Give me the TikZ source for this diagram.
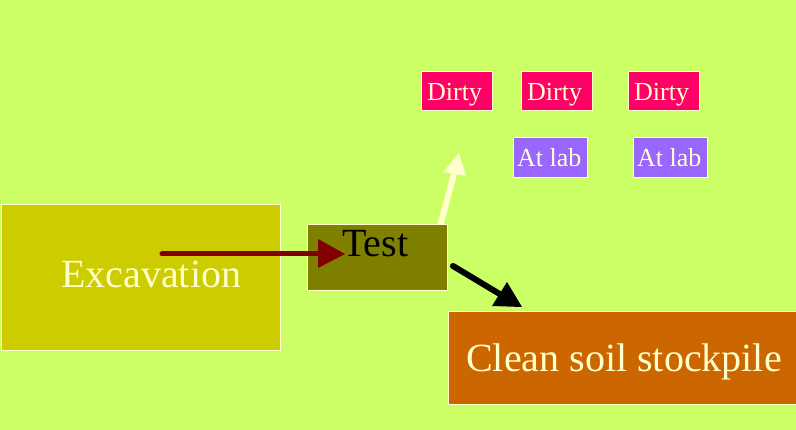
\documentclass[tikz,border=0pt]{standalone}
\usepackage{fontspec}
\setmainfont{Liberation Serif}
\definecolor{bg}{RGB}{204,255,102}
\definecolor{excav}{RGB}{204,204,0}
\definecolor{testc}{RGB}{128,128,0}
\definecolor{cleanc}{RGB}{204,102,0}
\definecolor{dirtyc}{RGB}{255,0,102}
\definecolor{labc}{RGB}{153,102,255}
\definecolor{cream}{RGB}{255,255,204}
\definecolor{darkred}{RGB}{128,0,0}
\tikzset{
  box/.style={draw=cream, line width=1pt},
  bigtext/.style={anchor=base west, inner sep=0pt, font=\fontsize{40}{48}\selectfont},
  smalltext/.style={anchor=base west, inner sep=0pt, font=\fontsize{26}{31}\selectfont, text=cream},
  conn/.style={line width=5pt},
}
\begin{document}
\begin{tikzpicture}[x=1pt,y=-1pt]
\useasboundingbox (0,0) rectangle (796,430);
\fill[bg] (0,0) rectangle (796,430);
% cream arrow (behind Test box)
\coordinate (c1) at (440,226);
\coordinate (c2) at (454,174);
\coordinate (c3) at (459,153);
\draw[conn, cream, line width=6pt] (c1) -- (c2);
\fill[cream] (c3) -- (443,172) -- (466,176) -- cycle;
% boxes
\draw[box, fill=excav] (1,205) rectangle (280,351);
\node[bigtext, text=cream] (excav) at (61,288) {Excavation};
\draw[box, fill=testc] (307,225) rectangle (447,291);
\node[bigtext, text=black] (test) at (342,257) {Test};
\draw[box, fill=cleanc] (448,312) rectangle (796,405);
\node[bigtext, text=cream] (clean) at (466,372) {Clean soil stockpile};
% dirty boxes
\draw[box, fill=dirtyc] (421,72) rectangle (492,111);
\node[smalltext] (d1) at (427,101) {Dirty};
\draw[box, fill=dirtyc] (521,72) rectangle (592,111);
\node[smalltext] (d2) at (527,101) {Dirty};
\draw[box, fill=dirtyc] (628,72) rectangle (699,111);
\node[smalltext] (d3) at (634,101) {Dirty};
% at lab boxes
\draw[box, fill=labc] (513,138) rectangle (587,178);
\node[smalltext] (l1) at (517,167) {At lab};
\draw[box, fill=labc] (633,138) rectangle (707,178);
\node[smalltext] (l2) at (637,167) {At lab};
% red arrow
\coordinate (r1) at (162,254);
\coordinate (r2) at (320,254);
\draw[conn, darkred, line cap=round] (r1) -- (r2);
\fill[darkred] (318,239) -- (318,268) -- (345,254) -- cycle;
% black arrow
\coordinate (b1) at (453,266);
\coordinate (b2) at (503,296);
\draw[conn, black, line width=6pt, line cap=round] (b1) -- (b2);
\fill[black] (507,282) -- (492,306) -- (522,307) -- cycle;
\end{tikzpicture}
\end{document}
